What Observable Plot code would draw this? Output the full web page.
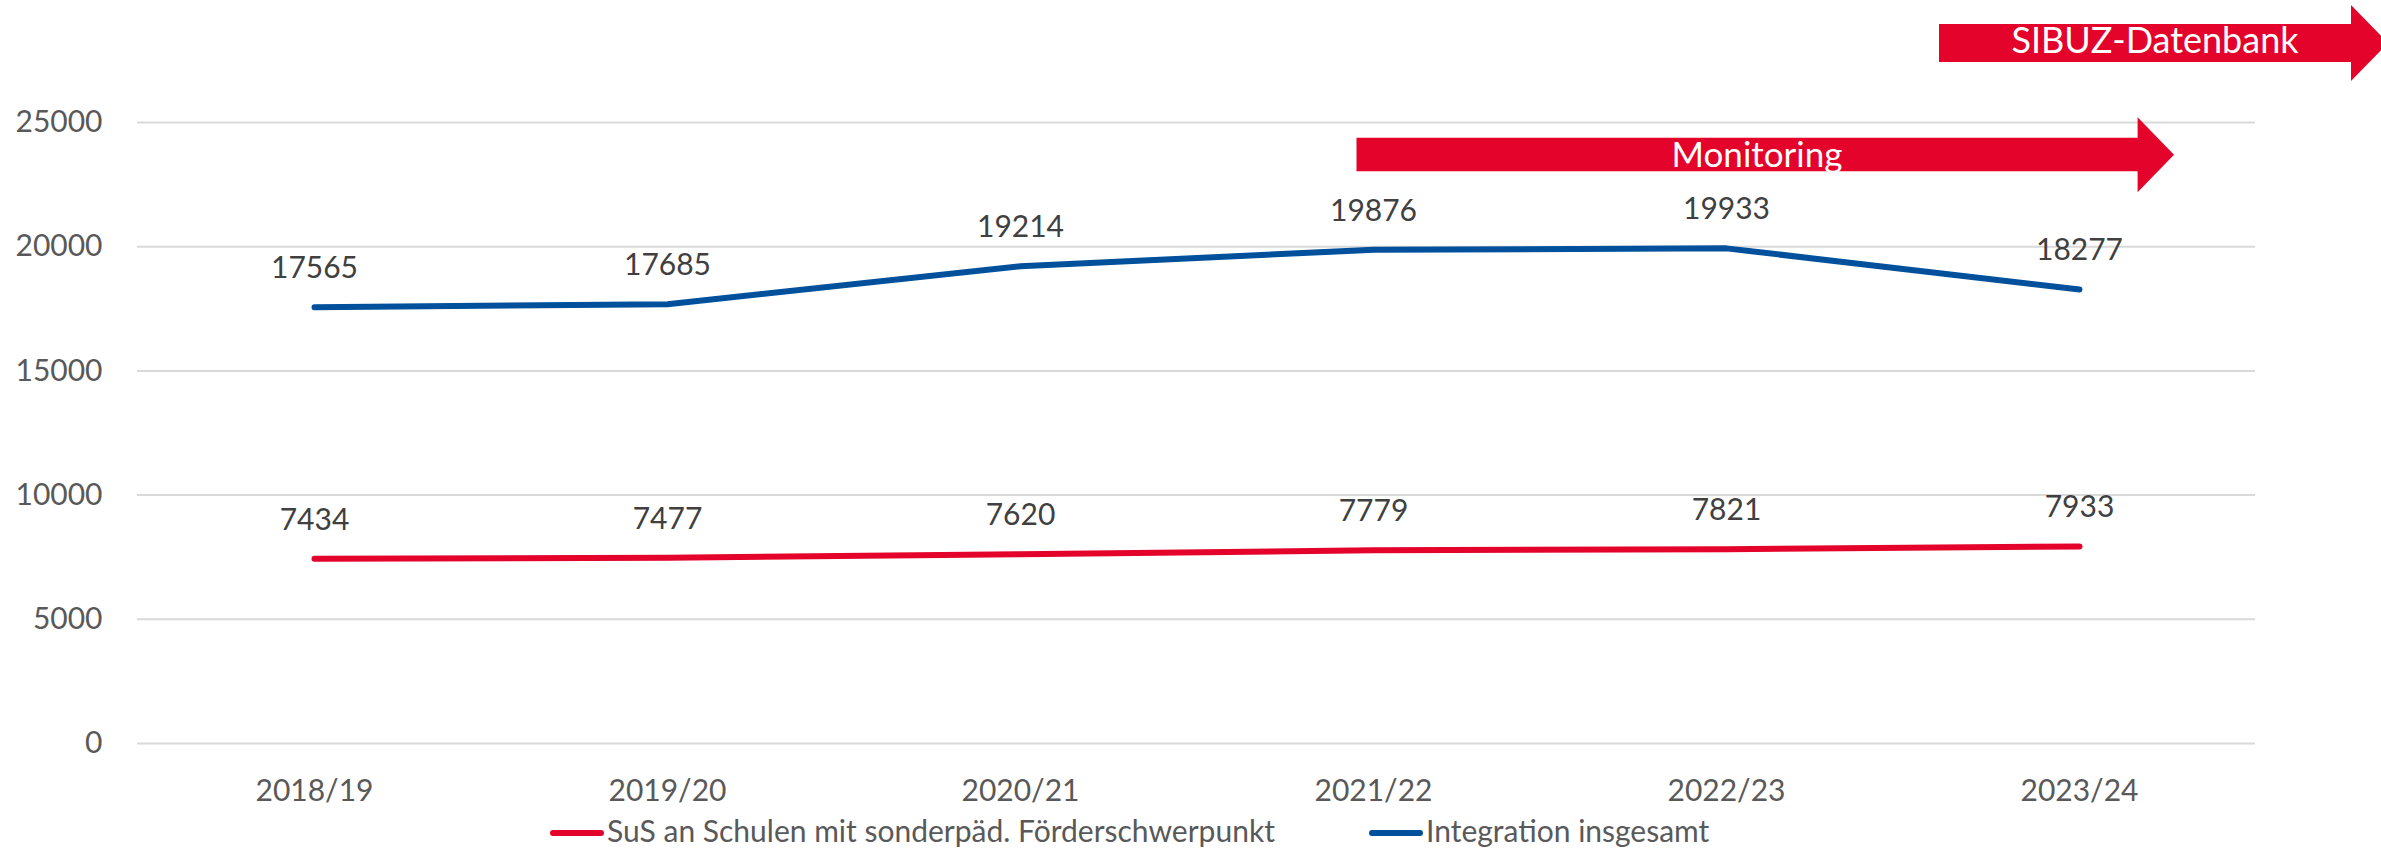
<!DOCTYPE html>
<html>
<head>
<meta charset="utf-8">
<script src="https://cdn.jsdelivr.net/npm/d3@7"></script>
<script src="https://cdn.jsdelivr.net/npm/@observablehq/plot@0.6"></script>
<style>
  html, body { margin: 0; padding: 0; background: #fff; }
  body { font-family: Lato, "Open Sans", sans-serif; width: 2381px; height: 851px; overflow: hidden; position: relative; }
  #legend { position: absolute; left: 0; top: 812px; width: 2381px; height: 39px; }
  .item { position: absolute; top: 0; height: 36px; line-height: 36px; font-size: 30px; color: #595959; white-space: nowrap; }
  .swatch { position: absolute; top: 18px; height: 6px; width: 54px; border-radius: 3px; }
  .label { position: absolute; top: 0; }
</style>
</head>
<body>
<div id="chart"></div>
<div id="legend"></div>
<script>
const years = ["2018/19", "2019/20", "2020/21", "2021/22", "2022/23", "2023/24"];
const susValues = [7434, 7477, 7620, 7779, 7821, 7933];
const integrationValues = [17565, 17685, 19214, 19876, 19933, 18277];
const seriesNames = ["SuS an Schulen mit sonderpäd. Förderschwerpunkt", "Integration insgesamt"];
const seriesColors = ["#e3032b", "#00509c"];
const yTicks = [0, 5000, 10000, 15000, 20000, 25000];
const bannerLabels = ["Monitoring", "SIBUZ-Datenbank"];

const data = years.flatMap((year, i) => [
  {year, value: susValues[i], series: seriesNames[0]},
  {year, value: integrationValues[i], series: seriesNames[1]}
]);

function bannerMark(index, scales, values, dimensions) {
  const g = d3.create("svg:g");
  const shapes = [
    {label: bannerLabels[0], x0: 1356.5, x1: 2137.6, tip: 2174, bTop: 137.7, bBot: 171.3, hTop: 117.3, hBot: 192.3, tx: 1757, ty: 167, fs: 35},
    {label: bannerLabels[1], x0: 1939, x1: 2351, tip: 2388, bTop: 24, bBot: 62, hTop: 5, hBot: 81, tx: 2155, ty: 53, fs: 36}
  ];
  for (const s of shapes) {
    const mid = (s.hTop + s.hBot) / 2;
    const pts = [[s.x0, s.bTop], [s.x1, s.bTop], [s.x1, s.hTop], [s.tip, mid], [s.x1, s.hBot], [s.x1, s.bBot], [s.x0, s.bBot]];
    g.append("polygon").attr("points", pts.map(p => p.join(",")).join(" ")).attr("fill", seriesColors[0]);
    g.append("text").attr("x", s.tx).attr("y", s.ty).attr("text-anchor", "middle")
      .attr("fill", "#fff").attr("font-size", s.fs).attr("font-family", "Lato, sans-serif").text(s.label);
  }
  return g.node();
}

const chart = Plot.plot({
  width: 2381,
  height: 812,
  marginLeft: 137,
  marginRight: 126,
  marginTop: 122,
  marginBottom: 69,
  style: {fontFamily: "Lato, 'Open Sans', sans-serif", fontSize: "30px", color: "#595959", background: "#fff", overflow: "visible"},
  x: {type: "point", domain: years, padding: 0.5, label: null},
  y: {domain: [0, 25000], label: null},
  color: {domain: seriesNames, range: seriesColors},
  marks: [
    Plot.gridY(yTicks, {stroke: "#d9d9d9", strokeOpacity: 1, strokeWidth: 2}),
    Plot.axisY(yTicks, {tickSize: 0, tickPadding: 35, fontSize: 30, fill: "#595959", tickFormat: d => String(d), label: null}),
    Plot.axisX({tickSize: 0, tickPadding: 36, fontSize: 30, fill: "#595959", label: null}),
    Plot.line(data, {x: "year", y: "value", z: "series", stroke: "series", strokeWidth: 6, strokeLinecap: "round", strokeLinejoin: "round"}),
    Plot.text(data, {x: "year", y: "value", text: d => String(d.value), lineAnchor: "bottom", dy: -29, fill: "#404040", fontSize: 30}),
    bannerMark
  ]
});
document.getElementById("chart").appendChild(chart);

const legendItems = [
  {name: seriesNames[0], color: seriesColors[0], left: 550},
  {name: seriesNames[1], color: seriesColors[1], left: 1369}
];
const legend = d3.select("#legend");
for (const it of legendItems) {
  const item = legend.append("div").attr("class", "item").style("left", it.left + "px");
  item.append("div").attr("class", "swatch").style("left", "0px").style("background", it.color);
  item.append("span").attr("class", "label").style("left", "57px").text(it.name);
}
</script>
</body>
</html>
